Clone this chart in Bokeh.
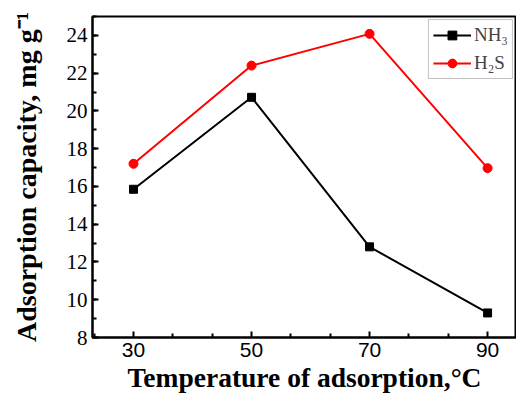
from bokeh.plotting import figure
from bokeh.models import FixedTicker, SingleIntervalTicker, Range1d, Legend, LegendItem
from bokeh.embed import file_html
from bokeh.resources import INLINE

temps = [30, 50, 70, 90]
nh3 = [15.85, 20.72, 12.8, 9.3]
h2s = [17.2, 22.4, 24.08, 16.97]
x_ticks = [30, 50, 70, 90]
x_minor = [23.33, 36.67, 43.33, 56.67, 63.33, 76.67, 83.33]

p = figure(width=516, height=398, output_backend="svg", toolbar_location=None,
           x_range=Range1d(23.05, 94.9), y_range=Range1d(8, 25),
           min_border_left=92, min_border_right=0, min_border_top=16, min_border_bottom=61)
p.xgrid.visible = False
p.ygrid.visible = False
p.outline_line_color = "black"
p.outline_line_width = 2
p.background_fill_color = "white"
p.border_fill_color = "white"

r1 = p.line(temps, nh3, line_color="black", line_width=2)
m1 = p.scatter(temps, nh3, marker="square", size=8, fill_color="black", line_color="black")
r2 = p.line(temps, h2s, line_color="red", line_width=2)
m2 = p.scatter(temps, h2s, marker="circle", size=9, fill_color="red", line_color="red")

legend = Legend(items=[LegendItem(label="NH\u2083", renderers=[r1, m1]),
                       LegendItem(label="H\u2082S", renderers=[r2, m2])],
                location="top_right")
legend.margin = 3
legend.padding = 4
legend.spacing = 6
legend.glyph_width = 38
legend.glyph_height = 22
legend.label_height = 22
legend.label_text_font = "Liberation Serif"
legend.label_text_font_size = "19px"
legend.border_line_color = "#888888"
legend.border_line_width = 1
legend.label_standoff = 3
p.add_layout(legend)

xa = p.xaxis[0]
xa.ticker = FixedTicker(ticks=x_ticks, minor_ticks=x_minor)
xa.axis_label = "Temperature of adsorption,\u00b0C"
xa.axis_label_text_font = "Liberation Serif"
xa.axis_label_text_font_style = "bold"
xa.axis_label_text_font_size = "27.5px"
xa.axis_label_standoff = 2
xa.major_label_text_font = "Liberation Sans"
xa.major_label_text_font_size = "21px"
xa.major_label_standoff = 5

ya = p.yaxis[0]
ya.ticker = SingleIntervalTicker(interval=2, num_minor_ticks=2)
ya.axis_label = "Adsorption capacity, mg g\u207b\u00b9"
ya.axis_label_text_font = "Liberation Serif"
ya.axis_label_text_font_style = "bold"
ya.axis_label_text_font_size = "28px"
ya.axis_label_standoff = 22
ya.major_label_text_font = "Liberation Serif"
ya.major_label_text_font_size = "21px"
ya.major_label_standoff = 5

for ax in (xa, ya):
    ax.axis_line_color = "black"
    ax.axis_line_width = 2
    ax.major_tick_in = 6
    ax.major_tick_out = 0
    ax.minor_tick_in = 4
    ax.minor_tick_out = 0
    ax.major_tick_line_width = 2
    ax.minor_tick_line_width = 2
    ax.major_label_text_color = "black"
    ax.axis_label_text_color = "black"

open("out.html", "w").write(file_html(p, INLINE))
